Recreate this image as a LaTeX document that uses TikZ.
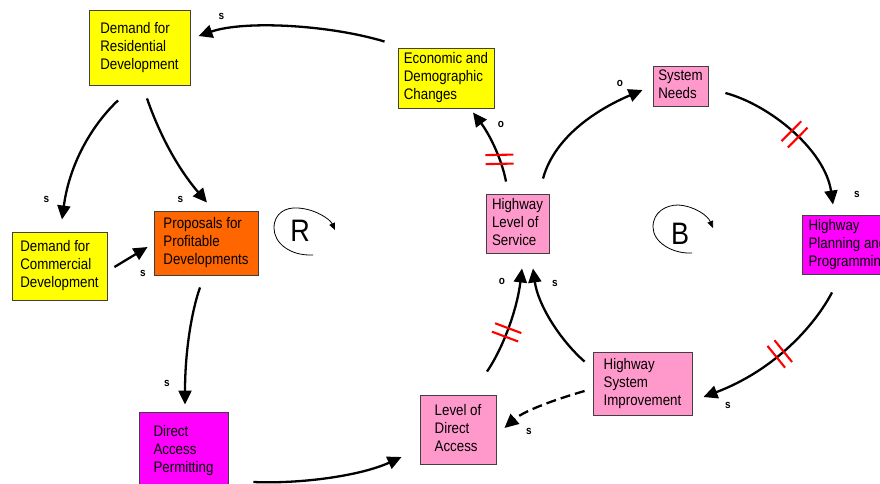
\documentclass[tikz,border=0pt]{standalone}
\usepackage{fontspec}
\setmainfont{Liberation Sans}
\usetikzlibrary{arrows.meta,calc,decorations.markings}

\definecolor{cyellow}{HTML}{FFFF00}
\definecolor{corange}{HTML}{FF6600}
\definecolor{cmagenta}{HTML}{FF00FF}
\definecolor{cpink}{HTML}{FF99CC}

% slightly tall lettering, as in the printed chart
\newcommand\tallr[1]{\scalebox{1}[1.15]{#1}}
\newcommand\boxlines[1]{\tallr{\begin{tabular}{@{}l@{}}#1\end{tabular}}}

\tikzset{
  var/.style n args={3}{draw=black!75, line width=0.9pt, fill=#1,
    inner sep=0pt, minimum width=#2pt, minimum height=#3pt,
    font=\fontsize{13.3}{15.6}\selectfont},
  link/.style={line width=2.3pt, -{Triangle[length=14pt,width=13pt]}},
  dlink/.style={link, dash pattern=on 10pt off 5pt},
  hashline/.style={draw=red, line width=2.1pt, arrows=-, solid},
  hash/.style 2 args={postaction={decorate, decoration={markings,
    mark=at position #1 with {\draw[hashline, rotate=#2]
      (-4.5pt,-14pt) -- (-4.5pt,14pt) (4.5pt,-14pt) -- (4.5pt,14pt);}}}},
  pol/.style={font=\bfseries\fontsize{10}{12}\selectfont, inner sep=0pt},
  loopsym/.style={font=\fontsize{27}{30}\selectfont, inner sep=0pt},
  cyc/.style={line width=0.8pt, -{Triangle[length=7pt,width=6pt]}}
}

\begin{document}
\begin{tikzpicture}[x=1pt, y=-1pt]
\useasboundingbox (0,0) rectangle (880,483);
\fill[white] (0,0) rectangle (880,483);
\clip (0,0) rectangle (880,483);

% variables
\node[var={cyellow}{101}{75}] (res) at (139.5,47.5) {\boxlines{Demand for\\Residential\\Development}};
\node[var={cyellow}{96}{60}] (econ) at (446,78) {\boxlines{Economic and\\Demographic\\Changes}};
\node[var={cpink}{55}{40}] (needs) at (680.5,86) {\boxlines{System\\Needs}};
\node[var={cpink}{63}{59}] (hlos) at (517.5,223.5) {\boxlines{Highway\\Level of\\Service}};
\node[var={cmagenta}{93}{59}] (hpp) at (848.5,244.5) {\boxlines{Highway\\Planning and\\Programming}};
\node[var={corange}{104}{64}] (prop) at (206,243) {\boxlines{Proposals for\\Profitable\\Developments}};
\node[var={cyellow}{95}{68}] (comm) at (59.5,266) {\boxlines{Demand for\\Commercial\\Development}};
\node[var={cmagenta}{89}{78}] (dap) at (183.5,451) {\boxlines{Direct\\Access\\Permitting}};
\node[var={cpink}{76}{69}] (lda) at (458,429.5) {\boxlines{Level of\\Direct\\Access}};
\node[var={cpink}{99}{63}] (hsi) at (642.5,383.5) {\boxlines{Highway\\System\\Improvement}};

% loop markers
\node[loopsym] (R) at (300,231) {\tallr{R}};
\node[loopsym] (B) at (680,234) {\tallr{B}};
\draw[cyc] ($(R)+(13,24)$) .. controls ($(R)+(-10,25)$) and ($(R)+(-26,12)$) .. ($(R)+(-26,-3)$)
  .. controls ($(R)+(-26,-18)$) and ($(R)+(-14,-24)$) .. ($(R)+(-2,-23)$)
  .. controls ($(R)+(15,-22)$) and ($(R)+(30,-12)$) .. ($(R)+(35,-1)$);
\draw[cyc] ($(B)+(12,19)$) .. controls ($(B)+(-8,20)$) and ($(B)+(-27,8)$) .. ($(B)+(-27,-7)$)
  .. controls ($(B)+(-27,-22)$) and ($(B)+(-14,-29)$) .. ($(B)+(-2,-29)$)
  .. controls ($(B)+(15,-28)$) and ($(B)+(28,-18)$) .. ($(B)+(33,-6)$);

% causal links
\draw[link] ($(econ.north west)+(-13,-6)$) .. controls (330,25) and (245,20) .. ($(res.east)+(8,-11.5)$);
\draw[link] ($(res.south)+(-21.5,15)$) .. controls (95,122) and (70,160) .. ($(comm.north)+(2.5,-12)$);
\draw[link] ($(res.south)+(7.5,13)$) .. controls (158,130) and (175,165) .. ($(prop.north)+(1,-8)$);
\draw[link] ($(comm.east)+(7,1)$) -- ($(prop.west)+(-6,4)$);
\draw[link] ($(prop.south)+(-6,12)$) .. controls (192,310) and (185,350) .. ($(dap.north)+(1.5,-7)$);
\draw[link] ($(dap.east)+(25,31)$) .. controls (300,484) and (360,476) .. ($(lda.west)+(-18,27.5)$);
\draw[dlink] ($(hsi.west)+(-8,7.5)$) .. controls (560,398) and (525,410) .. ($(lda.east)+(8,-1.5)$);
\draw[link, hash={0.4}{0}] ($(lda.north)+(29,-23)$) .. controls (503,348) and (517,310) .. ($(hlos.south)+(4.5,15)$);
\draw[link] ($(hsi.north west)+(-8,10)$) .. controls (560,340) and (538,305) .. ($(hlos.south)+(15.5,15)$);
\draw[link, hash={0.3}{-20}] ($(hlos.north)+(-11.5,-12)$) .. controls (502,160) and (490,135) .. ($(econ.south)+(27,4)$);
\draw[link] ($(hlos.north)+(25.5,-15)$) .. controls (555,135) and (600,108) .. ($(needs.west)+(-10,4)$);
\draw[link, hash={0.5}{0}] ($(needs.east)+(17,7)$) .. controls (770,105) and (825,150) .. ($(hpp.north)+(-15.5,-10)$);
\draw[link, hash={0.48}{0}] ($(hpp.south)+(-16.5,18)$) .. controls (815,325) and (775,370) .. ($(hsi.east)+(11,13.5)$);

% link polarities
\node[pol] (p1) at (221.5,16.5) {\tallr{s}};
\node[pol] (p2) at (46.5,199) {\tallr{s}};
\node[pol] (p3) at (180.5,199) {\tallr{s}};
\node[pol] (p4) at (143,273) {\tallr{s}};
\node[pol] (p5) at (167,383) {\tallr{s}};
\node[pol] (p7) at (529,431) {\tallr{s}};
\node[pol] (p8) at (502,281) {\tallr{o}};
\node[pol] (p9) at (555,283) {\tallr{s}};
\node[pol] (p10) at (501,124) {\tallr{o}};
\node[pol] (p11) at (620,83) {\tallr{o}};
\node[pol] (p12) at (857,194) {\tallr{s}};
\node[pol] (p13) at (728,405) {\tallr{s}};
\end{tikzpicture}
\end{document}
